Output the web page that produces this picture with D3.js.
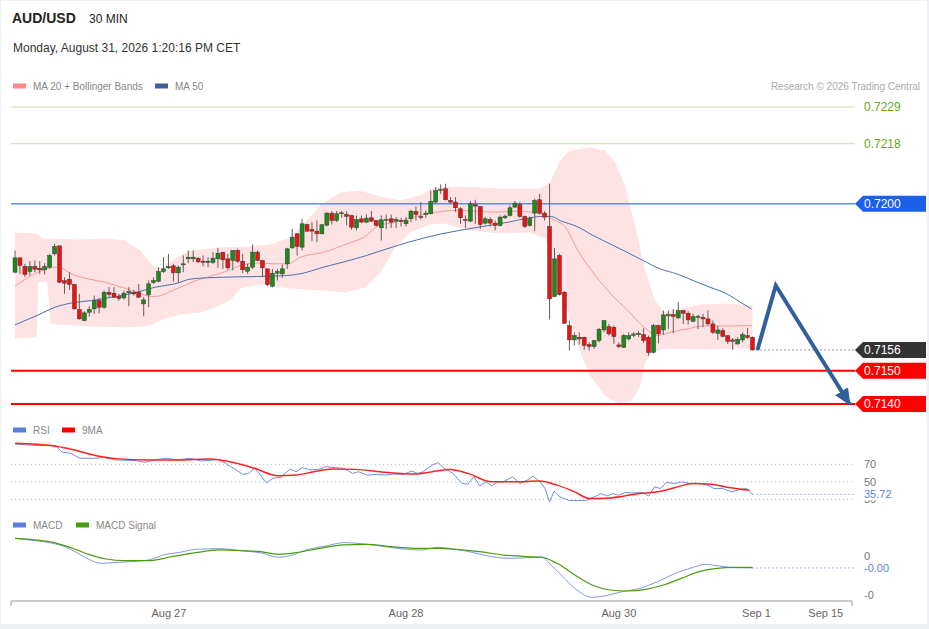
<!DOCTYPE html>
<html lang="en">
<head>
<meta charset="UTF-8" />
<title>AUD/USD 30 MIN</title>
<script src="https://d3js.org/d3.v7.min.js"></script>
<style>
  body { margin: 0; background: #edf1f4; font-family: Arial, "Liberation Sans", Helvetica, sans-serif; }
  svg { display: block; }
  .leg { font-size: 10px; fill: #888; }
  .side { font-size: 11px; fill: #777; }
  .tick { font-size: 11px; fill: #666; }
</style>
</head>
<body>
<div id="chart"></div>
<script>
// 30 min candles, oldest first
const openP = [0.71795,0.71838,0.71812,0.71797,0.71812,0.71807,0.71802,0.71810,0.71850,0.71874,
  0.71770,0.71774,0.71758,0.71683,0.71650,0.71675,0.71685,0.71710,0.71690,0.71735,
  0.71732,0.71722,0.71718,0.71733,0.71735,0.71735,0.71700,0.71727,0.71764,0.71768,
  0.71797,0.71808,0.71814,0.71793,0.71817,0.71835,0.71835,0.71837,0.71828,0.71824,
  0.71824,0.71835,0.71855,0.71835,0.71830,0.71860,0.71828,0.71798,0.71810,0.71855,
  0.71830,0.71805,0.71753,0.71792,0.71790,0.71820,0.71868,0.71910,0.71870,0.71938,
  0.71923,0.71918,0.71910,0.71936,0.71972,0.71950,0.71970,0.71968,0.71965,0.71928,
  0.71955,0.71945,0.71958,0.71950,0.71928,0.71950,0.71955,0.71948,0.71950,0.71940,
  0.71955,0.71977,0.71962,0.71968,0.71970,0.72005,0.72040,0.72045,0.72010,0.72005,
  0.71985,0.71953,0.71948,0.71998,0.71992,0.71942,0.71953,0.71942,0.71935,0.71958,
  0.71965,0.71990,0.71998,0.71962,0.71935,0.71972,0.72012,0.71972,0.71932,0.71722,
  0.71845,0.71735,0.71635,0.71592,0.71600,0.71600,0.71578,0.71572,0.71590,0.71622,
  0.71632,0.71630,0.71577,0.71570,0.71595,0.71606,0.71608,0.71608,0.71600,0.71555,
  0.71635,0.71622,0.71664,0.71668,0.71658,0.71680,0.71672,0.71648,0.71660,0.71660,
  0.71655,0.71640,0.71612,0.71620,0.71605,0.71592,0.71580,0.71592,0.71605,0.71600];
const highP = [0.71860,0.71838,0.71820,0.71828,0.71830,0.71828,0.71822,0.71850,0.71880,0.71874,
  0.71780,0.71795,0.71760,0.71730,0.71678,0.71693,0.71725,0.71718,0.71740,0.71750,
  0.71750,0.71730,0.71740,0.71750,0.71742,0.71760,0.71720,0.71770,0.71780,0.71810,
  0.71840,0.71850,0.71820,0.71815,0.71845,0.71860,0.71860,0.71840,0.71845,0.71840,
  0.71855,0.71868,0.71855,0.71850,0.71860,0.71865,0.71850,0.71820,0.71878,0.71860,
  0.71832,0.71805,0.71805,0.71805,0.71818,0.71868,0.71925,0.71912,0.71955,0.71940,
  0.71945,0.71950,0.71940,0.71975,0.71978,0.71978,0.71978,0.71978,0.71965,0.71965,
  0.71965,0.71968,0.71978,0.71950,0.71965,0.71968,0.71968,0.71960,0.71958,0.71960,
  0.71982,0.71992,0.72005,0.71980,0.72040,0.72050,0.72058,0.72060,0.72020,0.72020,
  0.71990,0.71965,0.72008,0.72012,0.71992,0.71960,0.71960,0.71950,0.71965,0.71968,
  0.71995,0.72008,0.72005,0.71965,0.71962,0.72015,0.72030,0.71978,0.72060,0.71868,
  0.71850,0.71738,0.71650,0.71615,0.71615,0.71602,0.71585,0.71592,0.71628,0.71652,
  0.71640,0.71635,0.71585,0.71610,0.71615,0.71615,0.71618,0.71627,0.71605,0.71640,
  0.71638,0.71680,0.71680,0.71685,0.71705,0.71682,0.71678,0.71670,0.71668,0.71670,
  0.71680,0.71650,0.71635,0.71627,0.71605,0.71598,0.71600,0.71615,0.71628,0.71602];
const lowP = [0.71792,0.71790,0.71780,0.71785,0.71795,0.71790,0.71788,0.71805,0.71845,0.71762,
  0.71730,0.71742,0.71683,0.71653,0.71648,0.71662,0.71670,0.71672,0.71685,0.71720,
  0.71718,0.71710,0.71712,0.71693,0.71725,0.71718,0.71663,0.71690,0.71760,0.71765,
  0.71793,0.71805,0.71767,0.71765,0.71795,0.71822,0.71825,0.71822,0.71812,0.71810,
  0.71820,0.71808,0.71805,0.71802,0.71800,0.71822,0.71792,0.71790,0.71805,0.71828,
  0.71780,0.71753,0.71750,0.71770,0.71778,0.71805,0.71865,0.71845,0.71860,0.71915,
  0.71888,0.71885,0.71908,0.71932,0.71938,0.71945,0.71958,0.71935,0.71922,0.71920,
  0.71942,0.71942,0.71945,0.71932,0.71890,0.71925,0.71928,0.71928,0.71932,0.71932,
  0.71945,0.71950,0.71953,0.71958,0.71968,0.72000,0.72030,0.72010,0.72000,0.71975,
  0.71940,0.71928,0.71945,0.71940,0.71925,0.71938,0.71932,0.71920,0.71932,0.71954,
  0.71962,0.71988,0.71958,0.71928,0.71932,0.71918,0.71968,0.71950,0.71653,0.71720,
  0.71725,0.71640,0.71560,0.71575,0.71578,0.71562,0.71560,0.71565,0.71584,0.71615,
  0.71605,0.71580,0.71568,0.71568,0.71590,0.71600,0.71600,0.71582,0.71545,0.71552,
  0.71582,0.71608,0.71625,0.71612,0.71655,0.71640,0.71638,0.71645,0.71625,0.71630,
  0.71635,0.71610,0.71592,0.71600,0.71580,0.71562,0.71578,0.71585,0.71595,0.71560];
const closeP = [0.71838,0.71815,0.71788,0.71812,0.71804,0.71802,0.71812,0.71845,0.71872,0.71765,
  0.71762,0.71758,0.71685,0.71655,0.71673,0.71683,0.71710,0.71690,0.71735,0.71728,
  0.71720,0.71716,0.71732,0.71737,0.71730,0.71720,0.71712,0.71760,0.71770,0.71797,
  0.71805,0.71812,0.71793,0.71810,0.71820,0.71840,0.71840,0.71826,0.71824,0.71828,
  0.71837,0.71852,0.71832,0.71808,0.71860,0.71828,0.71802,0.71810,0.71855,0.71830,
  0.71808,0.71758,0.71792,0.71797,0.71805,0.71865,0.71900,0.71872,0.71940,0.71918,
  0.71918,0.71910,0.71937,0.71972,0.71950,0.71970,0.71973,0.71962,0.71930,0.71953,
  0.71945,0.71957,0.71948,0.71935,0.71952,0.71953,0.71945,0.71953,0.71947,0.71950,
  0.71978,0.71968,0.71960,0.71972,0.72007,0.72040,0.72043,0.72012,0.72005,0.71988,
  0.71958,0.71950,0.72000,0.71993,0.71938,0.71955,0.71942,0.71935,0.71960,0.71963,
  0.71988,0.72002,0.71962,0.71932,0.71957,0.72010,0.71972,0.71960,0.71715,0.71835,
  0.71728,0.71642,0.71592,0.71605,0.71595,0.71575,0.71572,0.71590,0.71624,0.71650,
  0.71610,0.71602,0.71572,0.71605,0.71605,0.71610,0.71612,0.71590,0.71554,0.71635,
  0.71610,0.71667,0.71668,0.71662,0.71680,0.71672,0.71652,0.71662,0.71663,0.71655,
  0.71640,0.71615,0.71622,0.71603,0.71588,0.71588,0.71594,0.71608,0.71600,0.71562];

// indicator readings: [candle index, value]
const ma20 = [[0,0.71753],[4.7,0.71795],[7.9,0.71810],[9.4,0.71807],[11.4,0.71790],[14.8,0.71775],[18.1,0.71765],
  [21.5,0.71750],[24.8,0.71735],[27.5,0.71722],[28.9,0.71723],[31.5,0.71738],[34.2,0.71755],[36.2,0.71768],
  [38.8,0.71780],[42.2,0.71795],[45.6,0.71815],[48.9,0.71822],[53,0.71820],[55,0.71820],[57.7,0.71840],
  [62.4,0.71855],[67.1,0.71880],[70.5,0.71900],[73.5,0.71935],[77,0.71945],[81,0.71962],[85,0.71975],
  [89,0.71980],[93,0.71978],[97,0.71975],[101,0.71978],[104.4,0.71975],[107.1,0.71965],[109.1,0.71950],
  [111.1,0.71932],[113.7,0.71860],[117,0.71790],[120.4,0.71730],[123.8,0.71680],[127.1,0.71630],
  [129.8,0.71605],[132.5,0.71615],[135.8,0.71625],[139.2,0.71634],[142.5,0.71634],[145.9,0.71634],[148.9,0.71635]];
const bbUpper = [[0,0.71914],[4.6,0.71911],[5.6,0.71896],[13.1,0.71893],[18.2,0.71896],[22.2,0.71890],[25.3,0.71860],
  [27.7,0.71815],[29.7,0.71806],[32.3,0.71836],[35.4,0.71860],[41.4,0.71869],[47.5,0.71872],[51.5,0.71878],
  [55.6,0.71899],[58.6,0.71944],[61.6,0.71995],[65.7,0.72034],[69.7,0.72040],[73.7,0.72022],[77.8,0.72010],
  [81.8,0.72025],[84.8,0.72049],[89.9,0.72052],[98,0.72046],[106,0.72046],[108.1,0.72064],[110.1,0.72130],
  [112.1,0.72160],[116.2,0.72169],[119.2,0.72160],[121.2,0.72124],[123.2,0.72055],[125.3,0.71935],
  [127.3,0.71800],[129.3,0.71710],[131.3,0.71674],[134.3,0.71686],[138.4,0.71698],[144.4,0.71701],[149,0.71695]];
const bbLower = [[0,0.71596],[4.4,0.71600],[4.7,0.71765],[6.5,0.71765],[7.2,0.71640],[15.2,0.71632],[23.2,0.71629],
  [27.3,0.71635],[30.3,0.71656],[33.3,0.71668],[37.4,0.71674],[40.4,0.71689],[43.4,0.71710],[45.5,0.71746],
  [49.5,0.71758],[55.6,0.71746],[61.6,0.71740],[66.7,0.71734],[70.7,0.71749],[73.7,0.71791],[76.8,0.71869],
  [79.8,0.71914],[83.8,0.71938],[86.9,0.71941],[91.9,0.71920],[98,0.71911],[104,0.71914],[107.1,0.71896],
  [109.1,0.71830],[111.1,0.71710],[113.7,0.71575],[116.2,0.71485],[119.2,0.71425],[122.2,0.71401],
  [124.6,0.71410],[126.3,0.71455],[127.3,0.71524],[128.7,0.71554],[131.3,0.71566],[138.4,0.71563],[149,0.71566]];
const ma50 = [[0,0.71637],[4.7,0.71667],[8.1,0.71690],[11.5,0.71703],[15.5,0.71710],[19.5,0.71720],[24.2,0.71733],
  [28.3,0.71750],[32.3,0.71760],[35.7,0.71775],[42.1,0.71780],[48.8,0.71782],[54.9,0.71785],[57.6,0.71790],
  [62.3,0.71810],[67,0.71828],[71,0.71845],[73.7,0.71858],[79.5,0.71885],[86.2,0.71910],[92.9,0.71928],
  [99.7,0.71945],[103,0.71955],[106.4,0.71962],[108.4,0.71962],[110.1,0.71950],[113.5,0.71932],[116.8,0.71905],
  [120.2,0.71880],[123.6,0.71855],[126.9,0.71830],[130.3,0.71805],[133.7,0.71790],[137,0.71770],[140.4,0.71750],
  [143.8,0.71730],[147.1,0.71700],[148.8,0.71685]];

const rsi = [[0,93.1],[4.2,91.5],[8.3,91.2],[9.5,83.8],[11.3,82.7],[13.1,76.9],[16.1,76.9],[17.9,77.7],[20.3,75.0],
  [24.5,74.2],[26.3,72.3],[28.1,75.0],[30.5,76.9],[32.9,75.0],[35.3,76.9],[37.7,73.8],[40.1,75.0],[41.3,75.8],
  [43,69.2],[44.2,65.4],[46,58.5],[47.2,59.6],[48.4,65.4],[49.6,57.7],[50.8,48.8],[52,53.8],[53.8,55.4],[55.6,64.6],
  [56.8,61.5],[58,66.2],[59.8,63.5],[61.6,64.6],[62.8,67.3],[64.6,66.2],[66.4,65.4],[68.2,59.6],[69.4,61.5],
  [71.2,57.7],[73,58.5],[74.8,57.7],[76.6,58.8],[78.4,58.5],[80.2,62.3],[81.3,59.6],[82.5,61.5],[84.3,69.2],
  [85.5,71.9],[86.7,65.4],[88.5,59.6],[90.3,48.1],[91.5,47.3],[92.7,55.8],[93.9,45.4],[95.1,50.0],[96.3,45.4],
  [97.5,50.0],[98.7,50.0],[100.5,55.8],[102,48.1],[103.5,51.9],[104.7,56.5],[106.1,50.0],[107.1,42.3],[108,26.9],
  [108.9,39.2],[110.1,32.7],[111.9,28.8],[113.7,28.5],[115.5,28.8],[116.6,31.5],[118.4,36.5],[119.6,33.8],
  [120.8,36.5],[122,34.6],[123.2,37.7],[125,37.3],[126.8,37.7],[128,33.8],[129.2,44.2],[130.4,42.3],[131.6,49.2],
  [133.4,48.1],[134.6,50.0],[136.4,48.1],[138.2,48.1],[140,46.2],[141.2,42.3],[143,42.3],[144.8,38.5],[146.6,41.5],
  [147.8,42.3],[149,35.72]];
const rsiMa = [[0,94.2],[7.7,91.2],[11.3,87.3],[17.3,78.8],[20.9,76.2],[26.9,75.0],[32.9,75.0],[38.9,76.2],[41.3,75.0],
  [44.8,71.2],[48.4,65.4],[53.2,56.9],[56.8,57.7],[60.4,61.5],[64,64.6],[68.8,64.2],[74.8,60.8],[80.7,58.8],
  [84.3,61.5],[87.9,64.2],[91.5,59.6],[96.3,50.0],[101.1,50.0],[105.9,50.8],[109.5,46.2],[113.1,38.5],[116.1,30.8],
  [120.2,31.5],[126.2,36.5],[129.8,38.5],[133.4,43.5],[137,48.1],[140.6,47.3],[144.2,43.5],[148.4,40.4]];

// MACD readings in units of 1e-5
const macd = [[0,25.2],[4.2,22.2],[7.7,18.8],[10.1,14.5],[12.5,6.8],[14.9,-1.7],[17.3,-6.8],[19.7,-6.0],[23.3,-4.7],
  [26.9,-2.6],[30.5,4.7],[32.9,6.8],[36.5,11.1],[41.3,12.0],[46,9.0],[49.6,6.8],[53.2,0.9],[55.6,3.0],[59.2,11.1],
  [62.8,15.4],[66.4,19.7],[71.2,17.5],[74.8,14.5],[78.4,11.5],[82,10.3],[85.5,13.7],[89.1,11.1],[92.7,6.8],
  [96.3,1.7],[99.9,-0.4],[103.5,0.4],[106.5,0.9],[108.3,-9.0],[110.7,-23.9],[113.1,-38.9],[116.6,-50.4],
  [119,-48.7],[122.6,-43.2],[126.2,-38.9],[129.8,-30.3],[133.4,-19.7],[137,-12.0],[139.4,-8.1],[142.4,-10.3],
  [145.4,-12.4],[149,-12.8]];
const macdSignal = [[0,25.2],[7.7,20.1],[11.3,13.2],[14.9,4.7],[18.5,-1.3],[22.1,-3.4],[26.9,-3.4],[31.7,1.7],
  [36.5,6.8],[41.3,10.3],[46,9.4],[49.6,8.1],[53.2,4.7],[56.8,6.8],[61.6,12.4],[66.4,16.7],[71.2,17.5],[76,14.5],
  [80.8,12.4],[85.5,12.4],[89.1,11.1],[93.9,8.1],[98.7,3.8],[103.5,1.7],[106.5,0.9],[109.5,-6.8],[113.1,-21.8],
  [116.6,-34.6],[120.2,-41.0],[123.8,-42.3],[127.4,-40.2],[131,-34.6],[134.6,-26.1],[138.2,-17.5],[141.8,-13.2],
  [145.4,-12.0],[149,-12.0]];

const levelValues = [0.7229, 0.7218, 0.7200, 0.7150, 0.7140];
const levelKinds = ['resistance', 'resistance', 'pivot', 'support', 'support'];
const forecast = [[150, 0.71562], [153.7, 0.71755], [168.6, 0.7140]];

const tickLabels = ['Aug 27', 'Aug 28', 'Aug 30', 'Sep 1', 'Sep 15'];
const tickIndex = [31.1, 79, 122, 149.8, 163.8];
const rsiTicks = [70, 50, 30];
const macdTicks = [0, -50];

const W = 929, H = 629;
const left = 11, right = 855;

const svg = d3.select('#chart').append('svg').attr('width', W).attr('height', H);
svg.append('rect').attr('x', 1).attr('y', 1).attr('width', W - 3).attr('height', H - 6).attr('fill', '#fff');

const x = d3.scaleLinear().domain([0, 149]).range([15, 752.5]);
const y = d3.scaleLinear().domain([0.7140, 0.7229]).range([404, 107]);
const yRsi = d3.scaleLinear().domain([30, 70]).range([499.3, 464.3]);
const yMacd = d3.scaleLinear().domain([-50, 0]).range([597, 558]);

// header
svg.append('text').attr('x', 12).attr('y', 23).attr('font-size', 14).attr('font-weight', 'bold').attr('fill', '#222').text('AUD/USD');
svg.append('text').attr('x', 89).attr('y', 23).attr('font-size', 12).attr('fill', '#222').text('30 MIN');
svg.append('text').attr('x', 13).attr('y', 52).attr('font-size', 12).attr('fill', '#333').text('Monday, August 31, 2026 1:20:16 PM CET');
svg.append('text').attr('x', 920).attr('y', 89.5).attr('text-anchor', 'end').attr('class', 'leg').style('fill', '#aaa')
  .text('Research \u00a9 2026 Trading Central');

function legend(items, yPos) {
  items.forEach(([lx, color, label]) => {
    svg.append('rect').attr('x', lx).attr('y', yPos - 2.5).attr('width', 13).attr('height', 5).attr('fill', color);
    svg.append('text').attr('x', lx + 20).attr('y', yPos + 3.5).attr('class', 'leg').text(label);
  });
}
legend([[13, '#f88', 'MA 20 + Bollinger Bands'], [155, '#3a5f9c', 'MA 50']], 86);
legend([[13, '#5b7fdf', 'RSI'], [62, '#f00', '9MA']], 430);
legend([[13, '#5b7fdf', 'MACD'], [76, '#4a9c12', 'MACD Signal']], 525);

// levels
const levelStyle = {
  resistance: { stroke: '#c8dfac', width: 1, text: '#6aa812' },
  pivot: { stroke: '#5b8ef0', width: 1.5, box: '#1d5fe6' },
  support: { stroke: '#ff0000', width: 2, box: '#ff0000' }
};

function tag(yPos, label, fill, color) {
  const g = svg.append('g');
  if (fill) {
    g.append('path')
      .attr('d', `M${right},${yPos} L${right + 8},${yPos - 8} L926,${yPos - 8} L926,${yPos + 8} L${right + 8},${yPos + 8} Z`)
      .attr('fill', fill);
  }
  g.append('text').attr('x', 864).attr('y', yPos + 4).attr('font-size', 12)
    .attr('fill', color).text(label);
}

// bollinger band
const bandPts = bbUpper.concat(bbLower.slice().reverse());
svg.append('path')
  .attr('d', d3.line().x(d => x(d[0])).y(d => y(d[1]))(bandPts) + 'Z')
  .attr('fill', '#fde3e3');

levelValues.forEach((v, k) => {
  const st = levelStyle[levelKinds[k]];
  svg.append('line').attr('x1', left).attr('x2', right).attr('y1', y(v)).attr('y2', y(v))
    .attr('stroke', st.stroke).attr('stroke-width', st.width);
  tag(y(v), v.toFixed(4), st.box, st.box ? '#fff' : st.text);
});

const smooth = d3.line().x(d => x(d[0])).curve(d3.curveMonotoneX);
svg.append('path').attr('d', smooth.y(d => y(d[1]))(ma20)).attr('fill', 'none').attr('stroke', '#f59a9a').attr('stroke-width', 1);
svg.append('path').attr('d', smooth.y(d => y(d[1]))(ma50)).attr('fill', 'none').attr('stroke', '#4a70ad').attr('stroke-width', 1);

// candles
const candles = d3.range(closeP.length).map(i => ({ i, o: openP[i], h: highP[i], l: lowP[i], c: closeP[i] }));
const cg = svg.append('g');
cg.selectAll('line.wick').data(candles).join('line')
  .attr('x1', d => x(d.i)).attr('x2', d => x(d.i))
  .attr('y1', d => y(d.h)).attr('y2', d => y(d.l))
  .attr('stroke', '#6a5a5a').attr('stroke-width', 1);
cg.selectAll('rect.body').data(candles).join('rect')
  .attr('x', d => x(d.i) - 2).attr('width', 4)
  .attr('y', d => y(Math.max(d.o, d.c)))
  .attr('height', d => Math.max(1, Math.abs(y(d.o) - y(d.c))))
  .attr('fill', d => d.c >= d.o ? '#1a8a1a' : '#ee1111')
  .attr('stroke', '#3d3d3d').attr('stroke-width', 0.5);

// last price
const last = closeP[closeP.length - 1];
svg.append('line').attr('x1', x(149) + 4).attr('x2', right).attr('y1', y(last)).attr('y2', y(last))
  .attr('stroke', '#333').attr('stroke-dasharray', '1,3');
tag(y(last), last.toFixed(4), '#333', '#fff');

// forecast arrow
const defs = svg.append('defs');
defs.append('marker').attr('id', 'head').attr('markerUnits', 'userSpaceOnUse')
  .attr('markerWidth', 18).attr('markerHeight', 16).attr('refX', 15).attr('refY', 7.5).attr('orient', 'auto')
  .append('path').attr('d', 'M0,0 L17,7.5 L0,15 Z').attr('fill', '#30609c');
svg.append('path')
  .attr('d', d3.line().x(d => x(d[0])).y(d => y(d[1]))(forecast))
  .attr('fill', 'none').attr('stroke', '#30609c').attr('stroke-width', 4)
  .attr('stroke-linejoin', 'miter').attr('marker-end', 'url(#head)');

// RSI panel
rsiTicks.forEach(t => {
  svg.append('line').attr('x1', left).attr('x2', right).attr('y1', yRsi(t)).attr('y2', yRsi(t))
    .attr('stroke', '#bbb').attr('stroke-dasharray', '1,3');
  svg.append('text').attr('x', 864).attr('y', yRsi(t) + 4).attr('class', 'side').text(t);
});
const lin = d3.line().x(d => x(d[0]));
svg.append('path').attr('d', lin.y(d => yRsi(d[1]))(rsi)).attr('fill', 'none').attr('stroke', '#6f8ee6').attr('stroke-width', 1);
svg.append('path').attr('d', smooth.y(d => yRsi(d[1]))(rsiMa)).attr('fill', 'none').attr('stroke', '#f22').attr('stroke-width', 1.5);
const rsiLast = rsi[rsi.length - 1][1];
svg.append('line').attr('x1', x(149)).attr('x2', right).attr('y1', yRsi(rsiLast)).attr('y2', yRsi(rsiLast))
  .attr('stroke', '#5b7fdf').attr('stroke-dasharray', '1,3');
svg.append('rect').attr('x', 861).attr('y', yRsi(rsiLast) - 6).attr('width', 34).attr('height', 12).attr('fill', '#fff');
svg.append('text').attr('x', 864).attr('y', yRsi(rsiLast) + 4).attr('font-size', 11).attr('fill', '#5b7fdf').text(rsiLast.toFixed(2));

// MACD panel
svg.append('path').attr('d', smooth.y(d => yMacd(d[1]))(macd)).attr('fill', 'none').attr('stroke', '#7f9ae6').attr('stroke-width', 1);
svg.append('path').attr('d', smooth.y(d => yMacd(d[1]))(macdSignal)).attr('fill', 'none').attr('stroke', '#4a9c12').attr('stroke-width', 1.2);
macdTicks.forEach(t => {
  svg.append('text').attr('x', 864).attr('y', yMacd(t) + 2).attr('class', 'side').text((t * 1e-5).toFixed(0));
});
const macdLast = macd[macd.length - 1][1];
svg.append('line').attr('x1', x(149)).attr('x2', right).attr('y1', yMacd(macdLast)).attr('y2', yMacd(macdLast))
  .attr('stroke', '#5b7fdf').attr('stroke-dasharray', '1,3');
svg.append('text').attr('x', 864).attr('y', yMacd(macdLast) + 4.5).attr('font-size', 11).attr('fill', '#5b7fdf')
  .text((macdLast * 1e-5).toFixed(2));

// time axis
const axisY = 601;
svg.append('path').attr('d', `M${left},${axisY + 5} V${axisY} H852 V${axisY + 5}`)
  .attr('fill', 'none').attr('stroke', '#999');
tickLabels.forEach((t, k) => {
  svg.append('text').attr('x', x(tickIndex[k])).attr('y', 617).attr('text-anchor', 'middle').attr('class', 'tick').text(t);
});
</script>
</body>
</html>
